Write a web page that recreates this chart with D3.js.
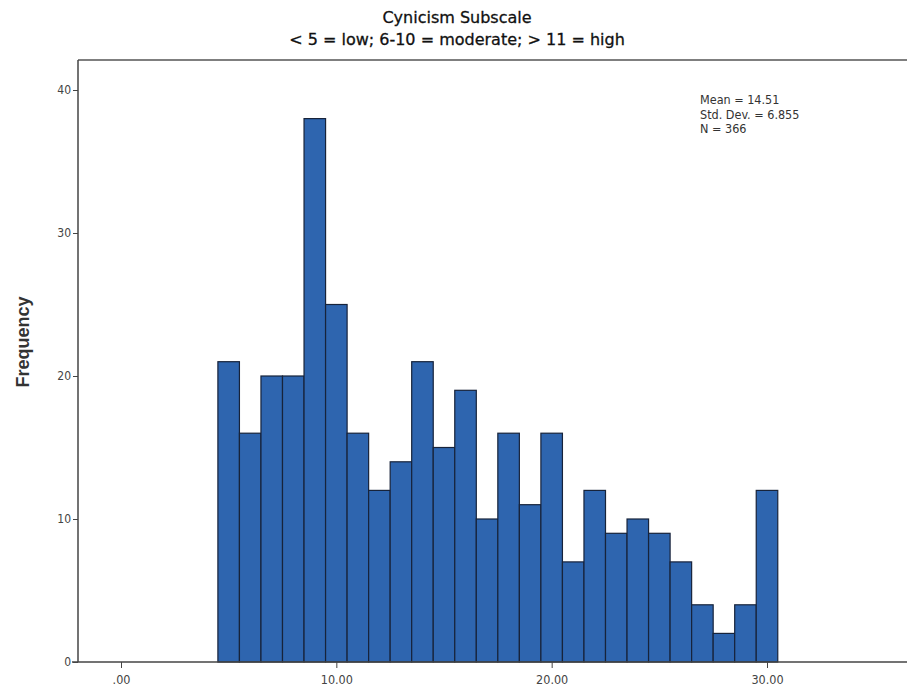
<!DOCTYPE html>
<html>
<head>
<meta charset="utf-8">
<script src="https://cdn.jsdelivr.net/npm/d3@7"></script>
<style>
  html, body { margin: 0; padding: 0; background: #fff; }
  svg { display: block; }
</style>
</head>
<body>
<svg id="chart" width="907" height="691"></svg>
<script>
// ---- data ----
const titleLines = ["Cynicism Subscale", "< 5 = low; 6-10 = moderate; > 11 = high"];
const binCenters = [5, 6, 7, 8, 9, 10, 11, 12, 13, 14, 15, 16, 17, 18, 19, 20, 21, 22, 23, 24, 25, 26, 27, 28, 29, 30];
const frequencies = [21, 16, 20, 20, 38, 25, 16, 12, 14, 21, 15, 19, 10, 16, 11, 16, 7, 12, 9, 10, 9, 7, 4, 2, 4, 12];
const xTicks = [0, 10, 20, 30];
const yTicks = [0, 10, 20, 30, 40];
const statsLines = ["Mean = 14.51", "Std. Dev. = 6.855", "N = 366"];
const yLabel = "Frequency";

// ---- layout ----
const svg = d3.select("#chart");
const frameLeft = 78, frameTop = 60, baseY = 662;

const x = d3.scaleLinear().domain([0, 30]).range([121, 767]);
const y = d3.scaleLinear().domain([0, 40]).range([baseY, 90]);

const titleFont = "'DejaVu Sans', sans-serif";
const tickFont = "'DejaVu Sans Condensed', 'DejaVu Sans', sans-serif";

// title
svg.selectAll("text.title").data(titleLines).enter().append("text")
  .attr("class", "title")
  .attr("x", 457)
  .attr("y", (d, i) => 23 + i * 22)
  .attr("text-anchor", "middle")
  .attr("font-family", titleFont)
  .attr("font-size", 16)
  .attr("fill", "#111")
  .attr("stroke", "#111")
  .attr("stroke-width", 0.3)
  .text(d => d);

// frame top line
svg.append("line")
  .attr("x1", frameLeft).attr("x2", 907)
  .attr("y1", frameTop).attr("y2", frameTop)
  .attr("stroke", "#555").attr("stroke-width", 1.5);

// bars
const binW = x(1) - x(0);
svg.append("g").selectAll("rect").data(binCenters).enter().append("rect")
  .attr("x", (d) => x(d - 0.5))
  .attr("width", binW)
  .attr("y", (d, i) => y(frequencies[i]))
  .attr("height", (d, i) => baseY - y(frequencies[i]))
  .attr("fill", "#2e65af")
  .attr("stroke", "#17233a")
  .attr("stroke-width", 1.2);

// y axis
const yAxis = d3.axisLeft(y).tickValues(yTicks).tickSize(5).tickSizeOuter(0).tickFormat(d3.format("d"));
const gy = svg.append("g").attr("transform", `translate(${frameLeft},0)`).call(yAxis);
gy.select(".domain").attr("d", `M0,${frameTop}V${baseY}`).attr("stroke", "#444").attr("stroke-width", 1.5);
gy.selectAll(".tick line").attr("stroke", "#444");
gy.selectAll(".tick text").attr("font-family", tickFont).attr("font-size", 12).attr("fill", "#444").attr("x", -7);

// x axis
const xAxis = d3.axisBottom(x).tickValues(xTicks).tickSize(6).tickSizeOuter(0)
  .tickFormat(d => d === 0 ? ".00" : d3.format(".2f")(d));
const gx = svg.append("g").attr("transform", `translate(0,${baseY})`).call(xAxis);
gx.select(".domain").attr("d", `M${frameLeft - 6},0H907`).attr("stroke", "#444").attr("stroke-width", 1.5);
gx.selectAll(".tick line").attr("stroke", "#444");
gx.selectAll(".tick text").attr("font-family", tickFont).attr("font-size", 12.5).attr("fill", "#444").attr("dy", "1em");

// y label
svg.append("text")
  .attr("transform", `translate(29,342) rotate(-90)`)
  .attr("text-anchor", "middle")
  .attr("font-family", "'Liberation Sans', Arial, sans-serif")
  .attr("font-weight", "bold")
  .attr("font-size", 18)
  .attr("fill", "#333")
  .text(yLabel);

// stats
svg.selectAll("text.stats").data(statsLines).enter().append("text")
  .attr("class", "stats")
  .attr("x", 700)
  .attr("y", (d, i) => 104 + i * 14.5)
  .attr("font-family", tickFont)
  .attr("font-size", 12.5)
  .attr("fill", "#333")
  .text(d => d);
</script>
</body>
</html>
